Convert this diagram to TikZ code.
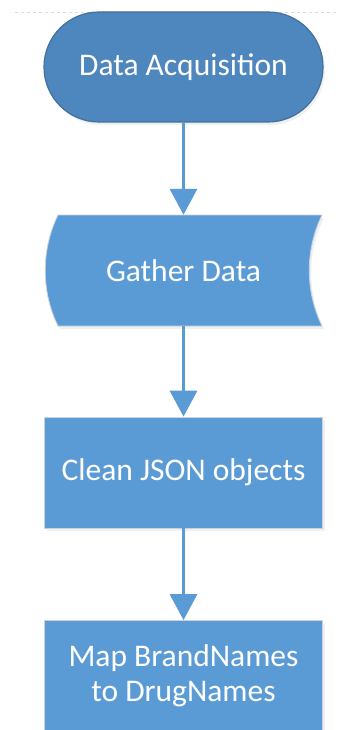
\documentclass[tikz,border=0pt]{standalone}
\usepackage{fontspec}
\setmainfont{Carlito}
\usetikzlibrary{arrows.meta,shadows}
\definecolor{termfill}{HTML}{4E86BE}
\definecolor{termdraw}{HTML}{41719C}
\definecolor{boxfill}{HTML}{5B9BD5}
\definecolor{boxdraw}{HTML}{C9D3DD}
\definecolor{guide}{HTML}{D9D9D9}
\tikzset{
  x=1pt, y=-1pt,
  lbl/.style={text=white, font=\fontsize{31.5}{35}\selectfont, align=center, inner sep=0pt},
  shade/.style={drop shadow={opacity=0.12, shadow xshift=2pt, shadow yshift=-3pt}},
  termbox/.style={lbl, draw=termdraw, fill=termfill, line width=1.2pt, rounded corners=55pt, minimum width=279pt, minimum height=110pt, shade},
  procbox/.style={lbl, draw=boxdraw, fill=boxfill, line width=0.8pt, minimum width=278pt, minimum height=111pt, shade},
  flow/.style={draw=boxfill, line width=3.5pt, -{Triangle[length=26pt,width=27pt]}}
}
\begin{document}
\begin{tikzpicture}
\useasboundingbox (0,0) rectangle (339,730);
\draw[guide, dashed, line width=0.6pt] (15,12) -- (339,12);
% terminal
\node[termbox] (acq) at (183.5,67) {Data Acquisition};
% stored data shape
\path[fill=boxfill, draw=boxdraw, line width=0.8pt, shade]
  (58,215) -- (322,215) .. controls (305,250) and (305,291) .. (322,326)
  -- (58,326) .. controls (41,291) and (41,250) .. (58,215) -- cycle;
\node[lbl, minimum width=277pt, minimum height=111pt] (gather) at (183.5,270.5) {Gather Data};
\node[procbox] (clean) at (183.5,472.5) {Clean JSON objects};
\node[procbox] (map) at (183.5,676) {Map BrandNames\\to DrugNames};
\draw[flow] (acq.south) -- (gather.north);
\draw[flow] (gather.south) -- (clean.north);
\draw[flow] (clean.south) -- (map.north);
\end{tikzpicture}
\end{document}
